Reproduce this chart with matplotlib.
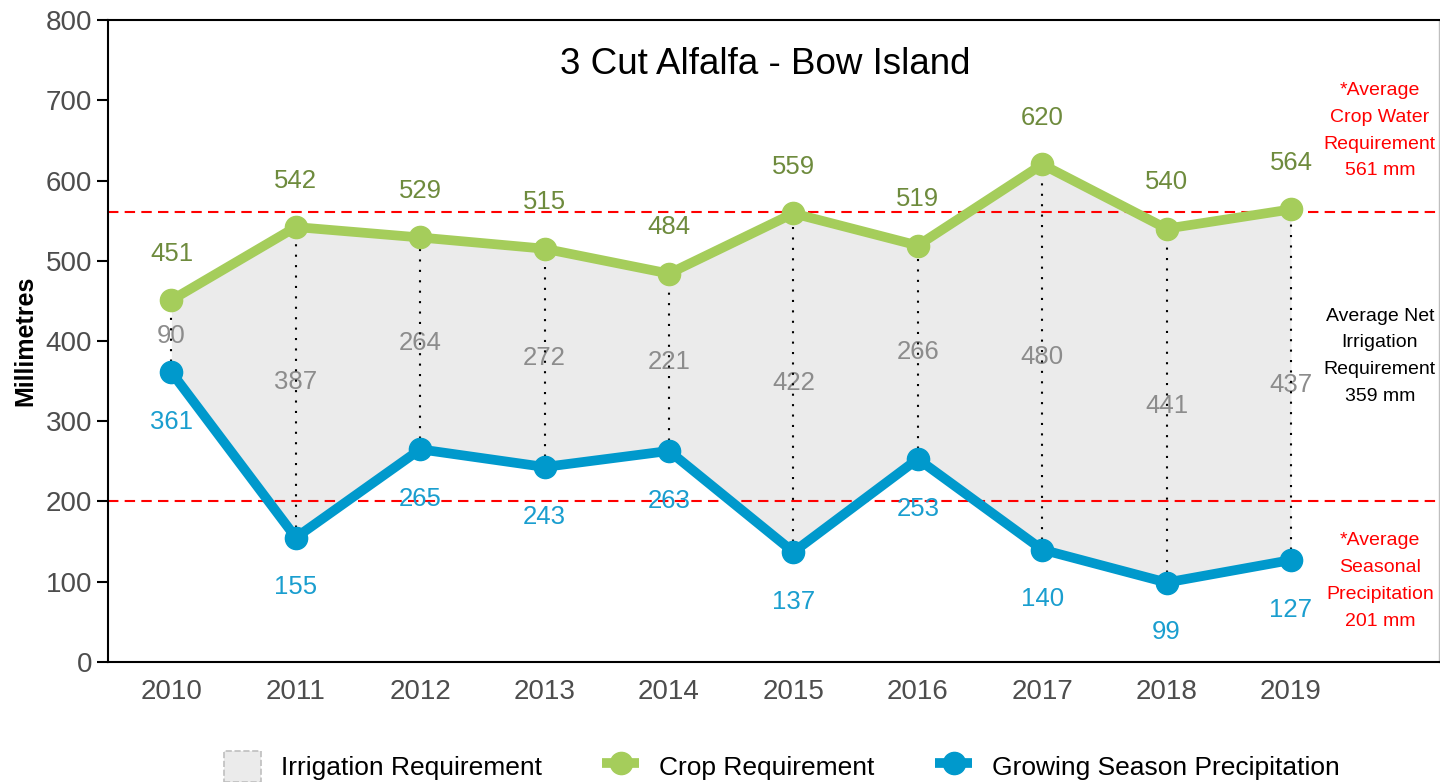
import matplotlib.pyplot as plt
from matplotlib.patches import Patch
from matplotlib.lines import Line2D
import numpy as np

plt.rcParams['font.family'] = ['Liberation Sans', 'DejaVu Sans']

years = [2010, 2011, 2012, 2013, 2014, 2015, 2016, 2017, 2018, 2019]
crop = [451, 542, 529, 515, 484, 559, 519, 620, 540, 564]
precip = [361, 155, 265, 243, 263, 137, 253, 140, 99, 127]
irrigation = [90, 387, 264, 272, 221, 422, 266, 480, 441, 437]
avg_crop = 561
avg_precip = 201
avg_net = 359

green = '#A5CD5B'
green_txt = '#6E8B3D'
blue = '#0099CC'
blue_txt = '#1A9ECF'
grey_txt = '#8C8C8C'
fill_col = '#EBEBEB'

fig = plt.figure(figsize=(14.4, 7.82), dpi=100)
ax = fig.add_axes([0.075, 0.1535, 0.9243, 0.8209])

x = np.array(years)
ax.fill_between(x, precip, crop, color=fill_col, lw=0, zorder=1)
ax.vlines(x, precip, crop, colors='black', linestyles=(0, (1, 4)), lw=1.5, zorder=2)

ax.axhline(avg_crop, color='red', lw=1.5, ls=(0, (5, 3)), zorder=2)
ax.axhline(avg_precip, color='red', lw=1.5, ls=(0, (5, 3)), zorder=2)

ax.plot(x, crop, color=green, lw=7, marker='o', ms=16, zorder=3)
ax.plot(x, precip, color=blue, lw=7, marker='o', ms=16, zorder=3)

for xi, c, p, ir in zip(x, crop, precip, irrigation):
    ax.text(xi, c + 58, str(c), color=green_txt, fontsize=18.5, ha='center', va='center', zorder=5)
    ax.text(xi, p - 62, str(p), color=blue_txt, fontsize=18.5, ha='center', va='center', zorder=5)
    ax.text(xi, (c + p) / 2, str(ir), color=grey_txt, fontsize=18.5, ha='center', va='center', zorder=1.5)

tx = 2019.715
ax.text(tx, 662, '*Average\nCrop Water\nRequirement\n%d mm' % avg_crop, color='red',
        fontsize=14, ha='center', va='center', linespacing=1.75)
ax.text(tx, 381, 'Average Net\nIrrigation\nRequirement\n%d mm' % avg_net, color='black',
        fontsize=14, ha='center', va='center', linespacing=1.75)
ax.text(tx, 101, '*Average\nSeasonal\nPrecipitation\n%d mm' % avg_precip, color='red',
        fontsize=14, ha='center', va='center', linespacing=1.75)

ax.text(0.494, 0.931, '3 Cut Alfalfa - Bow Island', transform=ax.transAxes,
        fontsize=26.5, ha='center', va='center')

ax.set_xlim(2009.49, 2020.19)
ax.set_ylim(0, 800)
ax.set_xticks(years)
ax.set_yticks(range(0, 801, 100))
ax.tick_params(axis='x', length=0, pad=12, labelsize=20, labelcolor='#4D4D4D')
ax.tick_params(axis='y', length=8, width=1.5, labelsize=20, labelcolor='#4D4D4D')
ax.set_ylabel('Millimetres', fontsize=18, fontweight='bold', labelpad=6)

for s in ['left', 'bottom', 'top']:
    ax.spines[s].set_linewidth(1.5)
    ax.spines[s].set_color('black')
ax.spines['right'].set_color('#BFBFBF')
ax.spines['right'].set_linewidth(1)

handles = [
    Patch(facecolor=fill_col, edgecolor='#BFBFBF', linestyle='--', lw=1.2),
    Line2D([0], [0], color=green, lw=7, marker='o', ms=16, solid_capstyle='butt'),
    Line2D([0], [0], color=blue, lw=7, marker='o', ms=16, solid_capstyle='butt'),
]
labels = ['Irrigation Requirement', 'Crop Requirement', 'Growing Season Precipitation']
fig.legend(handles, labels, loc='center', bbox_to_anchor=(0.543, 0.02), ncol=3, frameon=False,
           fontsize=19, handlelength=1.4, handleheight=1.4, handletextpad=0.75, columnspacing=2.3)

fig.savefig('out.png', dpi=100)
